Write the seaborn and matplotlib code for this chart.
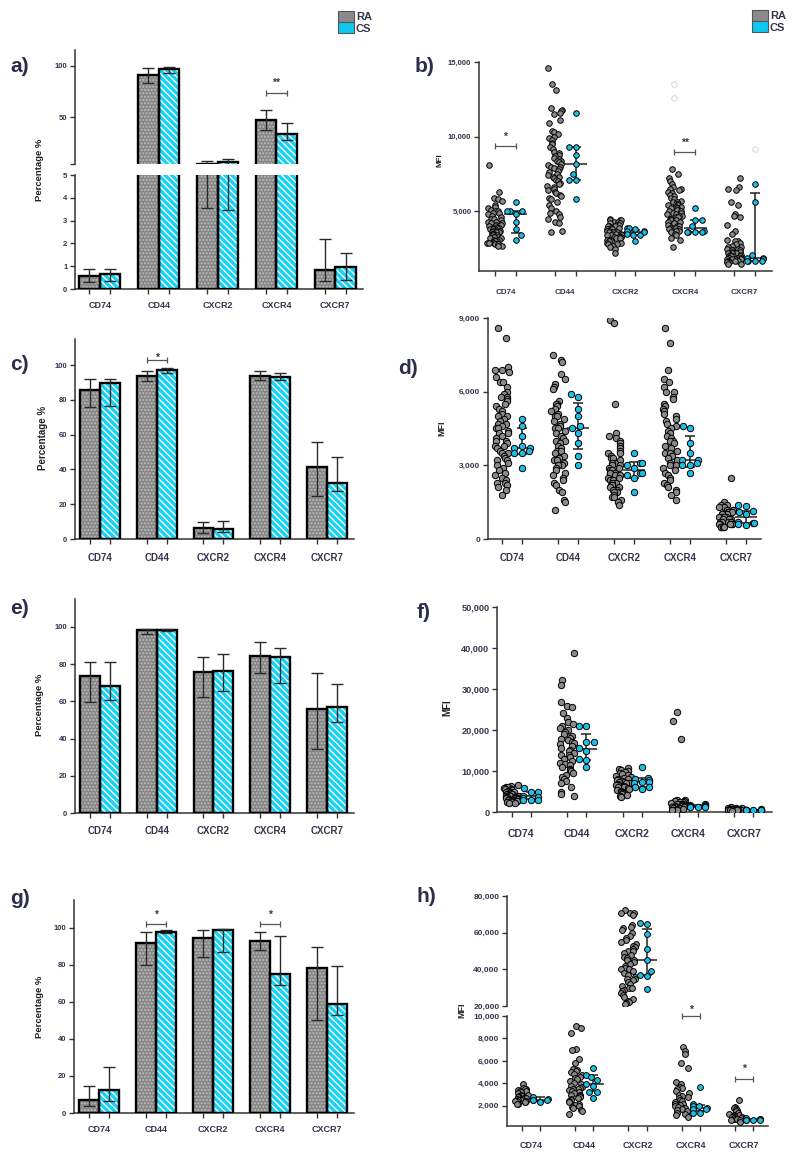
import numpy as np
import pandas as pd
import matplotlib
matplotlib.use("Agg")
import matplotlib.pyplot as plt
from matplotlib.patches import Rectangle, Patch
from matplotlib.ticker import FuncFormatter
import seaborn as sns

sns.set_style("ticks")
plt.rcParams["font.family"] = ["Liberation Sans", "DejaVu Sans"]
plt.rcParams["font.weight"] = "bold"
plt.rcParams["hatch.linewidth"] = 1.0

markers = ["CD74", "CD44", "CXCR2", "CXCR4", "CXCR7"]
groups = ["RA", "CS"]

# ---- bar panels (percentage): bar height, lower / upper whisker ----
a_ra = [0.57, 91.0, 5.15, 47.8, 0.83]
a_ra_lo = [0.32, 83.0, 3.55, 38.1, 0.35]
a_ra_hi = [0.88, 97.8, 8.3, 57.4, 2.18]
a_cs = [0.64, 96.8, 7.0, 34.0, 0.95]
a_cs_lo = [0.35, 93.0, 3.45, 28.5, 0.40]
a_cs_hi = [0.86, 99.0, 9.9, 45.0, 1.56]

c_ra = [85.6, 93.9, 6.3, 94.0, 41.2]
c_ra_lo = [75.7, 90.8, 3.3, 91.4, 24.9]
c_ra_hi = [92.0, 96.7, 10.0, 96.7, 55.9]
c_cs = [89.8, 96.9, 5.6, 92.9, 32.0]
c_cs_lo = [76.6, 95.6, 3.8, 91.4, 27.8]
c_cs_hi = [92.0, 98.5, 10.5, 95.6, 47.1]

e_ra = [73.4, 98.2, 75.9, 84.5, 55.9]
e_ra_lo = [59.5, 96.0, 62.1, 75.2, 34.5]
e_ra_hi = [81.4, 99.1, 83.9, 92.1, 75.0]
e_cs = [68.0, 98.4, 76.4, 84.1, 57.1]
e_cs_lo = [60.7, 97.9, 65.7, 69.8, 48.8]
e_cs_hi = [80.9, 99.1, 85.7, 88.9, 69.3]

g_ra = [7.2, 91.9, 94.4, 92.7, 78.1]
g_ra_lo = [3.6, 80.1, 84.2, 87.8, 50.2]
g_ra_hi = [14.7, 97.8, 98.9, 97.5, 89.6]
g_cs = [12.2, 97.7, 98.6, 75.3, 58.8]
g_cs_lo = [6.6, 97.1, 86.9, 69.0, 52.9]
g_cs_hi = [24.6, 98.6, 99.5, 95.3, 79.2]

# ---- dot panels (MFI, in thousands), one list per marker ----
b_ra = [
    [8.1, 6.3, 5.9, 5.8, 5.7, 5.4, 5.3, 5.2, 5.1, 5.0, 5.0, 4.9, 4.9, 4.8, 4.7, 4.6, 4.5, 4.5, 4.4, 4.3, 4.3, 4.2,
     4.2, 4.1, 4.1, 4.0, 4.0, 3.9, 3.9, 3.9, 3.8, 3.8, 3.8, 3.7, 3.7, 3.7, 3.6, 3.6, 3.6, 3.5, 3.5, 3.5, 3.4, 3.4,
     3.3, 3.3, 3.3, 3.2, 3.2, 3.1, 3.1, 3.0, 3.0, 3.0, 2.9, 2.9, 2.9, 2.8, 2.8, 2.8, 2.7, 2.7],
    [14.6, 13.5, 13.1, 11.9, 11.8, 11.7, 11.6, 11.5, 11.1, 10.9, 10.4, 10.3, 10.2, 10.0, 9.9, 9.8, 9.6, 9.5, 9.3,
     9.2, 9.0, 8.9, 8.8, 8.7, 8.6, 8.5, 8.4, 8.4, 8.3, 8.2, 8.1, 8.0, 8.0, 7.9, 7.8, 7.7, 7.6, 7.5, 7.4, 7.3, 7.3,
     7.2, 7.1, 7.0, 6.9, 6.8, 6.7, 6.6, 6.5, 6.4, 6.3, 6.2, 6.1, 6.0, 5.9, 5.8, 5.6, 5.4, 5.2, 5.0, 4.9, 4.8, 4.6,
     4.5, 4.3, 4.2, 3.7, 3.6],
    [4.5, 4.4, 4.4, 4.4, 4.3, 4.3, 4.2, 4.2, 4.1, 4.1, 4.0, 4.0, 4.0, 3.9, 3.9, 3.8, 3.8, 3.8, 3.7, 3.7, 3.7, 3.6,
     3.6, 3.6, 3.6, 3.5, 3.5, 3.5, 3.4, 3.4, 3.4, 3.3, 3.3, 3.3, 3.3, 3.2, 3.2, 3.2, 3.1, 3.1, 3.0, 3.0, 2.9, 2.9,
     2.8, 2.8, 2.7, 2.7, 2.6, 2.5, 2.2],
    [7.8, 7.5, 7.2, 7.0, 6.8, 6.6, 6.5, 6.5, 6.4, 6.3, 6.2, 6.1, 6.0, 5.9, 5.8, 5.7, 5.6, 5.6, 5.5, 5.5, 5.4, 5.4,
     5.3, 5.3, 5.2, 5.2, 5.1, 5.1, 5.0, 5.0, 4.9, 4.9, 4.8, 4.8, 4.7, 4.7, 4.6, 4.6, 4.5, 4.5, 4.4, 4.4, 4.3, 4.3,
     4.2, 4.2, 4.1, 4.0, 4.0, 3.9, 3.9, 3.8, 3.8, 3.7, 3.7, 3.6, 3.5, 3.4, 3.2, 3.1, 2.6],
    [7.2, 6.6, 6.5, 6.4, 5.6, 5.4, 4.8, 4.7, 4.6, 4.1, 3.7, 3.5, 3.1, 3.0, 3.0, 2.9, 2.8, 2.7, 2.6, 2.6, 2.5, 2.5,
     2.4, 2.4, 2.4, 2.3, 2.3, 2.2, 2.2, 2.2, 2.1, 2.1, 2.0, 2.0, 2.0, 2.0, 1.9, 1.9, 1.9, 1.9, 1.8, 1.8, 1.8, 1.8,
     1.7, 1.7, 1.7, 1.7, 1.6, 1.6, 1.6, 1.6, 1.5, 1.5],
]
b_cs = [
    [5.6, 5.0, 5.0, 5.0, 4.8, 4.3, 3.8, 3.4, 3.1],
    [11.6, 9.3, 9.3, 8.8, 8.2, 7.5, 7.1, 7.1, 5.8],
    [3.9, 3.9, 3.8, 3.7, 3.7, 3.6, 3.5, 3.4, 3.4, 3.0],
    [5.2, 4.4, 4.4, 4.0, 3.7, 3.6, 3.6, 3.6, 3.6],
    [6.8, 5.6, 2.1, 1.9, 1.9, 1.8, 1.7, 1.7, 1.7, 1.7],
]
b_cs_mid = [4.8, 8.2, 3.6, 3.85, 1.9]
b_cs_lo = [3.55, 7.1, 3.4, 3.6, 1.7]
b_cs_hi = [5.0, 9.3, 3.75, 4.4, 6.2]
b_faint_cxcr4_ra = [13.5, 12.6]
b_faint_cxcr7_cs = [9.2]

d_ra = [
    [8.6, 8.2, 7.0, 6.9, 6.9, 6.8, 6.6, 6.4, 6.4, 6.2, 6.0, 5.9, 5.8, 5.8, 5.7, 5.6, 5.5, 5.4, 5.3, 5.2, 5.1, 5.0,
     5.0, 4.9, 4.8, 4.7, 4.7, 4.6, 4.5, 4.5, 4.4, 4.3, 4.3, 4.2, 4.1, 4.0, 4.0, 3.9, 3.8, 3.8, 3.7, 3.6, 3.5, 3.5,
     3.4, 3.3, 3.2, 3.2, 3.1, 3.0, 2.9, 2.8, 2.7, 2.6, 2.5, 2.4, 2.3, 2.3, 2.2, 2.1, 2.0, 1.8],
    [7.5, 7.3, 7.2, 6.7, 6.5, 6.3, 6.2, 6.1, 5.6, 5.5, 5.5, 5.4, 5.3, 5.2, 5.1, 5.0, 5.0, 4.9, 4.8, 4.7, 4.6, 4.5,
     4.5, 4.4, 4.3, 4.2, 4.1, 4.0, 4.0, 3.9, 3.8, 3.7, 3.6, 3.6, 3.5, 3.4, 3.3, 3.2, 3.2, 3.1, 3.0, 3.0, 2.9, 2.8,
     2.7, 2.6, 2.5, 2.4, 2.3, 2.2, 2.0, 1.9, 1.6, 1.5, 1.2],
    [8.9, 8.8, 5.5, 4.3, 4.2, 4.1, 4.0, 3.9, 3.8, 3.7, 3.6, 3.5, 3.5, 3.4, 3.3, 3.3, 3.2, 3.1, 3.1, 3.0, 3.0, 2.9,
     2.9, 2.8, 2.8, 2.7, 2.7, 2.7, 2.6, 2.6, 2.5, 2.5, 2.4, 2.4, 2.3, 2.3, 2.2, 2.2, 2.1, 2.1, 2.0, 2.0, 1.9, 1.9,
     1.8, 1.7, 1.7, 1.6, 1.5, 1.4],
    [8.6, 8.0, 6.9, 6.5, 6.4, 6.2, 6.0, 6.0, 5.8, 5.7, 5.5, 5.4, 5.3, 5.2, 5.1, 5.0, 4.9, 4.8, 4.7, 4.6, 4.5, 4.4,
     4.3, 4.2, 4.1, 4.0, 4.0, 3.9, 3.8, 3.7, 3.6, 3.5, 3.5, 3.4, 3.3, 3.2, 3.1, 3.0, 3.0, 2.9, 2.8, 2.7, 2.6, 2.5,
     2.4, 2.3, 2.2, 2.1, 2.0, 1.9, 1.8, 1.6],
    [2.5, 1.5, 1.4, 1.4, 1.3, 1.3, 1.2, 1.2, 1.2, 1.1, 1.1, 1.1, 1.0, 1.0, 1.0, 1.0, 0.9, 0.9, 0.9, 0.9, 0.8, 0.8,
     0.8, 0.8, 0.7, 0.7, 0.7, 0.7, 0.6, 0.6, 0.6, 0.6, 0.6, 0.5, 0.5, 0.5, 0.5],
]
d_cs = [
    [4.9, 4.6, 4.2, 3.8, 3.7, 3.7, 3.6, 3.5, 3.5, 2.9],
    [5.9, 5.8, 5.3, 5.0, 4.6, 4.5, 4.3, 3.9, 3.4, 3.0],
    [3.5, 3.1, 3.1, 3.0, 2.9, 2.7, 2.7, 2.6, 2.5, 1.9],
    [4.6, 4.5, 3.9, 3.5, 3.2, 3.2, 3.1, 3.0, 3.0, 2.7],
    [1.4, 1.35, 1.15, 1.1, 1.0, 0.7, 0.65, 0.65, 0.6, 0.55],
]
d_cs_mid = [3.7, 4.5, 2.8, 3.2, 0.9]
d_cs_lo = [3.45, 3.65, 2.5, 2.95, 0.65]
d_cs_hi = [4.5, 5.55, 3.15, 4.2, 1.15]

f_ra = [
    [6.5, 6.3, 6.2, 6.0, 5.8, 5.6, 5.5, 5.3, 5.1, 5.0, 5.0, 4.8, 4.7, 4.5, 4.4, 4.3, 4.2, 4.0, 4.0, 3.9, 3.8, 3.8,
     3.7, 3.6, 3.5, 3.5, 3.4, 3.3, 3.2, 3.1, 3.0, 3.0, 2.9, 2.8, 2.8, 2.7, 2.6, 2.5, 2.4, 2.3, 2.2],
    [38.9, 32.1, 30.9, 26.8, 25.9, 25.5, 24.2, 23.0, 22.0, 21.5, 21.0, 20.5, 20.0, 19.5, 19.0, 18.5, 18.0, 17.8,
     17.5, 17.0, 16.8, 16.5, 16.0, 15.5, 15.2, 15.0, 14.5, 14.0, 13.8, 13.5, 13.0, 12.5, 12.0, 11.8, 11.5, 11.0,
     10.5, 10.2, 10.0, 9.5, 9.0, 8.5, 8.0, 7.5, 7.0, 6.0, 5.0, 4.3, 3.9],
    [10.8, 10.5, 10.2, 10.0, 9.8, 9.5, 9.2, 9.0, 8.8, 8.5, 8.3, 8.0, 8.0, 7.8, 7.6, 7.4, 7.2, 7.0, 7.0, 6.8, 6.6,
     6.5, 6.4, 6.2, 6.0, 5.8, 5.6, 5.4, 5.2, 5.0, 4.8, 4.6, 4.4, 4.2, 4.0, 3.6],
    [24.3, 22.1, 17.7, 3.0, 2.9, 2.8, 2.7, 2.6, 2.5, 2.4, 2.2, 2.0, 2.0, 1.9, 1.8, 1.6, 1.5, 1.5, 1.4, 1.3, 1.2,
     1.1, 1.0, 1.0, 0.9, 0.8, 0.7, 0.6, 0.5, 0.4],
    [1.2, 1.0, 0.9, 0.9, 0.8, 0.8, 0.7, 0.7, 0.7, 0.6, 0.6, 0.6, 0.5, 0.5, 0.4, 0.4, 0.3],
]
f_cs = [
    [5.8, 5.0, 4.8, 4.0, 3.6, 3.3, 3.0, 3.0, 2.9],
    [21.0, 20.9, 17.1, 17.0, 15.5, 15.0, 13.0, 12.8, 10.9],
    [10.9, 8.4, 8.0, 7.7, 7.3, 7.3, 7.1, 6.2, 6.0, 5.5],
    [1.9, 1.7, 1.6, 1.5, 1.4, 1.4, 1.3, 1.2, 1.2],
    [0.7, 0.6, 0.6, 0.5, 0.5, 0.5, 0.5, 0.4, 0.4],
]
f_cs_mid = [4.0, 15.4, 7.3, 1.5, 0.5]
f_cs_lo = [3.2, 12.6, 6.2, 1.3, 0.45]
f_cs_hi = [5.0, 19.1, 8.3, 1.7, 0.6]

h_ra = [
    [3.9, 3.6, 3.5, 3.5, 3.4, 3.3, 3.3, 3.2, 3.1, 3.0, 3.0, 2.9, 2.9, 2.8, 2.8, 2.7, 2.7, 2.6, 2.6, 2.6, 2.5, 2.5,
     2.5, 2.4, 2.4, 2.4, 2.3, 2.3, 2.2, 2.2],
    [9.1, 8.9, 8.5, 7.1, 7.0, 6.2, 5.8, 5.3, 5.2, 5.1, 5.0, 4.8, 4.7, 4.6, 4.5, 4.4, 4.2, 4.0, 3.9, 3.8, 3.7, 3.6,
     3.5, 3.5, 3.4, 3.3, 3.2, 3.1, 3.0, 3.0, 2.9, 2.8, 2.7, 2.6, 2.5, 2.4, 2.3, 2.2, 2.1, 2.0, 1.9, 1.8, 1.6, 1.5,
     1.3],
    [72.5, 71.0, 70.8, 70.5, 69.5, 64.0, 63.0, 62.5, 61.5, 60.0, 58.0, 57.0, 56.0, 55.0, 54.0, 53.0, 52.0, 51.0,
     50.0, 50.0, 49.0, 48.0, 47.0, 46.0, 45.0, 45.0, 44.0, 43.0, 42.0, 41.0, 40.0, 40.0, 39.0, 38.0, 37.0, 36.0,
     35.0, 35.0, 34.0, 33.0, 32.0, 31.0, 30.0, 30.0, 29.0, 28.0, 27.0, 26.0, 25.0, 24.0, 23.0, 22.0, 21.5, 21.0],
    [7.2, 6.9, 6.6, 5.8, 5.4, 4.1, 3.9, 3.7, 3.6, 3.5, 3.3, 3.1, 3.0, 2.9, 2.8, 2.7, 2.5, 2.4, 2.3, 2.2, 2.2, 2.1,
     2.0, 1.9, 1.8, 1.8, 1.7, 1.6, 1.5, 1.4, 1.3, 1.2, 1.0],
    [2.5, 1.9, 1.8, 1.7, 1.6, 1.5, 1.4, 1.3, 1.2, 1.2, 1.1, 1.0, 1.0, 1.0, 0.9, 0.9, 0.8, 0.8, 0.7, 0.7, 0.6],
]
h_cs = [
    [2.8, 2.6, 2.5, 2.5, 2.5, 2.3],
    [5.4, 4.7, 4.6, 4.3, 3.9, 3.8, 3.2, 3.2, 2.7],
    [65.5, 64.8, 59.5, 51.2, 45.2, 39.0, 36.7, 36.2, 29.1],
    [3.65, 2.2, 2.0, 2.0, 1.8, 1.7, 1.7, 1.4, 1.4],
    [0.9, 0.8, 0.8, 0.75, 0.7, 0.7, 0.7],
]
h_cs_mid = [2.55, 3.9, 45.0, 1.8, 0.75]
h_cs_lo = [2.4, 3.3, 36.7, 1.5, 0.7]
h_cs_hi = [2.75, 4.7, 62.2, 2.1, 0.85]

RA_BAR, CS_BAR = "#868686", "#16d2f6"
RA_DOT, CS_DOT = "#8a8a8a", "#1cbfe6"
TEXT = "#34344e"
LABEL = "#2c2e4c"

W, H = 794, 1160
fig = plt.figure(figsize=(W / 100, H / 100), dpi=100)
np.random.seed(7)


def add_ax(x0, y0, x1, y1):
    return fig.add_axes([x0 / W, 1 - y1 / H, (x1 - x0) / W, (y1 - y0) / H])


def base_style(ax, fs):
    sns.despine(ax=ax)
    for s in ("left", "bottom"):
        ax.spines[s].set_linewidth(1.1)
        ax.spines[s].set_color("#333333")
    ax.tick_params(labelsize=fs, labelcolor=TEXT, width=1.0, length=3.5, color="#333333", pad=2)
    ax.set_xlabel("")
    ax.set_ylabel("")


def draw_bars(ax, ra, ra_lo, ra_hi, cs, cs_lo, cs_hi):
    df = pd.DataFrame({"marker": markers * 2, "group": ["RA"] * 5 + ["CS"] * 5, "value": ra + cs})
    sns.barplot(data=df, x="marker", y="value", hue="group", order=markers, hue_order=groups,
                palette=[RA_BAR, CS_BAR], saturation=1, width=0.7, errorbar=None, legend=False, ax=ax)
    styles = [("." * 5, "#bcbcbc"), ("\\" * 5, "white")]
    for cont, (hatch, hc), mid, lo, hi in zip(ax.containers, styles, [ra, cs], [ra_lo, cs_lo], [ra_hi, cs_hi]):
        xs = []
        for bar in cont:
            bar.set_hatch(hatch)
            bar.set_edgecolor(hc)
            bar.set_linewidth(0)
            bar.set_zorder(2)
            ax.add_patch(Rectangle(bar.get_xy(), bar.get_width(), bar.get_height(), fill=False,
                                   ec="black", lw=1.7, zorder=3))
            xs.append(bar.get_x() + bar.get_width() / 2)
        mid, lo, hi = map(np.asarray, (mid, lo, hi))
        ax.errorbar(xs, mid, yerr=[mid - lo, hi - mid], fmt="none", ecolor="#2a2a2a",
                    elinewidth=1.0, capsize=4, capthick=1.0, zorder=4)


def bar_xaxis(ax, xlim, fs, pad, labels=True):
    ax.set_xlim(*xlim)
    centers = [i + d for i in range(5) for d in (-0.175, 0.175)]
    ax.set_xticks(centers, labels=[""] * 10)
    if labels:
        ax.set_xticks(range(5), labels=markers, minor=True)
        ax.tick_params(axis="x", which="minor", length=0, labelsize=fs, labelcolor=TEXT, pad=pad)


def draw_dots(ax, ra, cs, mid, lo, hi, gap, size, ra_jit):
    ra_x = [i * gap for i, vals in enumerate(ra) for _ in vals]
    ra_y = [v * 1000 for vals in ra for v in vals]
    sns.stripplot(x=ra_x, y=ra_y, native_scale=True, orient="x", jitter=ra_jit / gap, color=RA_DOT,
                  edgecolor="black", linewidth=0.7, size=size, ax=ax, zorder=3)
    xs = np.arange(5) * gap + 1
    mid, lo, hi = (np.asarray(v) * 1000 for v in (mid, lo, hi))
    ax.hlines(mid, xs - 0.55, xs + 0.55, color="#222222", lw=1.1, zorder=2.5)
    ax.errorbar(xs, mid, yerr=[mid - lo, hi - mid], fmt="none", ecolor="#222222", elinewidth=1.1,
                capsize=3.5, capthick=1.1, zorder=2.5)
    # one swarm per marker keeps each CS cloud within its own slot
    for i, vals in enumerate(cs):
        sns.swarmplot(x=[i * gap + 1] * len(vals), y=[v * 1000 for v in vals], native_scale=True,
                      orient="x", color=CS_DOT, edgecolor="black", linewidth=0.7, size=size,
                      warn_thresh=1, ax=ax, zorder=3.5)


def dot_xaxis(ax, gap, xlim, fs, pad):
    ax.set_xlim(*xlim)
    pos = [i * gap + d for i in range(5) for d in (0, 1)]
    ax.set_xticks(pos, labels=[""] * 10)
    ax.set_xticks(np.arange(5) * gap + 0.5, labels=markers, minor=True)
    ax.tick_params(axis="x", which="minor", length=0, labelsize=fs, labelcolor=TEXT, pad=pad)


def bracket(ax, x0, x1, y, text, lift_px):
    ax.plot([x0, x1], [y, y], color="#555555", lw=0.9, clip_on=False, zorder=6)
    ax.plot([x0, x1], [y, y], ls="none", marker="|", ms=5, mew=0.9, color="#555555", clip_on=False, zorder=6)
    ax.annotate(text, xy=((x0 + x1) / 2, y), xytext=(0, (lift_px - 5.5) * 0.72), textcoords="offset points",
                ha="center", va="baseline", fontsize=7.5, color=TEXT, annotation_clip=False)


comma = FuncFormatter(lambda v, p: f"{int(round(v)):,}")

# ---------------- a) broken percentage axis ----------------
ax_a_top = add_ax(75, 50, 363, 164)
ax_a_bot = add_ax(75, 175, 363, 289)
for ax in (ax_a_top, ax_a_bot):
    draw_bars(ax, a_ra, a_ra_lo, a_ra_hi, a_cs, a_cs_lo, a_cs_hi)
    base_style(ax, 5.5)
ax_a_top.set_ylim(5, 115)
ax_a_top.set_yticks([5, 50, 100], labels=["", "50", "100"])
ax_a_top.spines["bottom"].set_visible(False)
ax_a_top.set_xlim(-0.42, 4.47)
ax_a_top.set_xticks([])
ax_a_bot.set_ylim(0, 5)
ax_a_bot.set_yticks([0, 1, 2, 3, 4, 5])
bar_xaxis(ax_a_bot, (-0.42, 4.47), 6.5, 9)
bracket(ax_a_top, 2.825, 3.175, 73.4, "**", 13)

# ---------------- c), e), g) ----------------
ax_c = add_ax(75, 339, 354, 539)
draw_bars(ax_c, c_ra, c_ra_lo, c_ra_hi, c_cs, c_cs_lo, c_cs_hi)
base_style(ax_c, 5.5)
ax_c.set_ylim(0, 115)
ax_c.set_yticks([0, 20, 40, 60, 80, 100])
bar_xaxis(ax_c, (-0.44, 4.48), 7, 10)
bracket(ax_c, 0.825, 1.175, 102.9, "*", 5)

ax_e = add_ax(75, 599, 354, 813)
draw_bars(ax_e, e_ra, e_ra_lo, e_ra_hi, e_cs, e_cs_lo, e_cs_hi)
base_style(ax_e, 5.5)
ax_e.set_ylim(0, 115)
ax_e.set_yticks([0, 20, 40, 60, 80, 100])
bar_xaxis(ax_e, (-0.44, 4.48), 7, 9)

ax_g = add_ax(74, 900, 354, 1113)
draw_bars(ax_g, g_ra, g_ra_lo, g_ra_hi, g_cs, g_cs_lo, g_cs_hi)
base_style(ax_g, 5.5)
ax_g.set_ylim(0, 115)
ax_g.set_yticks([0, 20, 40, 60, 80, 100])
bar_xaxis(ax_g, (-0.44, 4.48), 6.5, 9)
bracket(ax_g, 0.825, 1.175, 102.2, "*", 11)
bracket(ax_g, 2.825, 3.175, 102.2, "*", 11)

# ---------------- b) ----------------
gb = 2.86
ax_b = add_ax(479, 62, 772, 271)
ax_b.set_xlim(-0.76, 13.25)
ax_b.set_ylim(1000, 15000)
draw_dots(ax_b, b_ra, b_cs, b_cs_mid, b_cs_lo, b_cs_hi, gb, 4.0, 0.36)
sns.stripplot(x=[3 * gb] * 2 + [4 * gb + 1], y=[v * 1000 for v in b_faint_cxcr4_ra + b_faint_cxcr7_cs],
              native_scale=True, orient="x", jitter=False, color="white", edgecolor="#d4d4d4",
              linewidth=0.7, size=4.0, ax=ax_b, zorder=3)
base_style(ax_b, 5.5)
ax_b.set_ylim(1000, 15000)
ax_b.set_yticks([5000, 10000, 15000])
ax_b.yaxis.set_major_formatter(comma)
dot_xaxis(ax_b, gb, (-0.76, 13.25), 5.8, 13)
bracket(ax_b, 0, 1, 9350, "*", 12)
bracket(ax_b, 3 * gb, 3 * gb + 1, 9000, "**", 11)

# ---------------- d) ----------------
gd = 2.8
ax_d = add_ax(488, 318, 761, 539)
ax_d.set_xlim(-0.7, 12.95)
ax_d.set_ylim(0, 9000)
draw_dots(ax_d, d_ra, d_cs, d_cs_mid, d_cs_lo, d_cs_hi, gd, 4.6, 0.35)
base_style(ax_d, 6)
ax_d.set_ylim(0, 9000)
ax_d.set_yticks([0, 3000, 6000, 9000])
ax_d.yaxis.set_major_formatter(comma)
dot_xaxis(ax_d, gd, (-0.7, 12.95), 7, 10)

# ---------------- f) ----------------
gf = 2.95
ax_f = add_ax(497, 607, 772, 812)
ax_f.set_xlim(-0.79, 13.8)
ax_f.set_ylim(0, 50000)
draw_dots(ax_f, f_ra, f_cs, f_cs_mid, f_cs_lo, f_cs_hi, gf, 4.6, 0.4)
base_style(ax_f, 6.6)
ax_f.set_ylim(0, 50000)
ax_f.set_yticks([0, 10000, 20000, 30000, 40000, 50000])
ax_f.yaxis.set_major_formatter(comma)
dot_xaxis(ax_f, gf, (-0.79, 13.8), 7.5, 12)

# ---------------- h) broken MFI axis ----------------
gh = 2.9
ax_h_top = add_ax(507, 896, 768, 1006)
ax_h_bot = add_ax(507, 1016, 768, 1126)
for ax, lim in ((ax_h_top, (20000, 80000)), (ax_h_bot, (200, 10000))):
    ax.set_xlim(-0.81, 13.41)
    ax.set_ylim(*lim)
    draw_dots(ax, h_ra, h_cs, h_cs_mid, h_cs_lo, h_cs_hi, gh, 4.2, 0.4)
    base_style(ax, 6)
    ax.set_ylim(*lim)
    ax.yaxis.set_major_formatter(comma)
ax_h_top.set_yticks([20000, 40000, 60000, 80000])
ax_h_top.spines["bottom"].set_visible(False)
ax_h_top.set_xlim(-0.81, 13.41)
ax_h_top.set_xticks([])
ax_h_bot.set_yticks([2000, 4000, 6000, 8000, 10000])
dot_xaxis(ax_h_bot, gh, (-0.81, 13.41), 6.5, 11)
bracket(ax_h_bot, 3 * gh, 3 * gh + 1, 10000, "*", 9)
bracket(ax_h_bot, 4 * gh, 4 * gh + 1, 4350, "*", 13)

# ---------------- labels, axis titles, legends ----------------
for txt, x, y in [("a)", 10, 67), ("b)", 415, 67), ("c)", 10, 365), ("d)", 398, 368),
                  ("e)", 10, 608), ("f)", 417, 612), ("g)", 10, 898), ("h)", 417, 897)]:
    fig.text(x / W, 1 - y / H, txt, ha="left", va="center", fontsize=15, color=LABEL, fontweight="bold")

for txt, x, y, fs in [("Percentage %", 40, 170, 6.8), ("Percentage %", 43, 438, 7),
                      ("Percentage %", 40, 705, 6.8), ("Percentage %", 40, 1007, 6.8),
                      ("MFI", 440, 160, 5.8), ("MFI", 442, 428, 6.5), ("MFI", 447, 708, 7),
                      ("MFI", 462, 1010, 6.5)]:
    fig.text(x / W, 1 - y / H, txt, rotation=90, ha="center", va="center", fontsize=fs, color="#222222",
             fontweight="bold")

handles = [Patch(facecolor="#8a8a8a", edgecolor="#555555", lw=0.8),
           Patch(facecolor="#0fc8f2", edgecolor="#555555", lw=0.8)]
for x, y in ((338, 11), (752, 10)):
    fig.legend(handles, groups, loc="upper left", bbox_to_anchor=(x / W, 1 - y / H), frameon=False,
               handlelength=1.45, handleheight=1.15, labelspacing=0.0, handletextpad=0.15,
               borderpad=0, borderaxespad=0, prop={"size": 8, "weight": "bold"}, labelcolor=TEXT)

fig.savefig("out.png", dpi=100)
